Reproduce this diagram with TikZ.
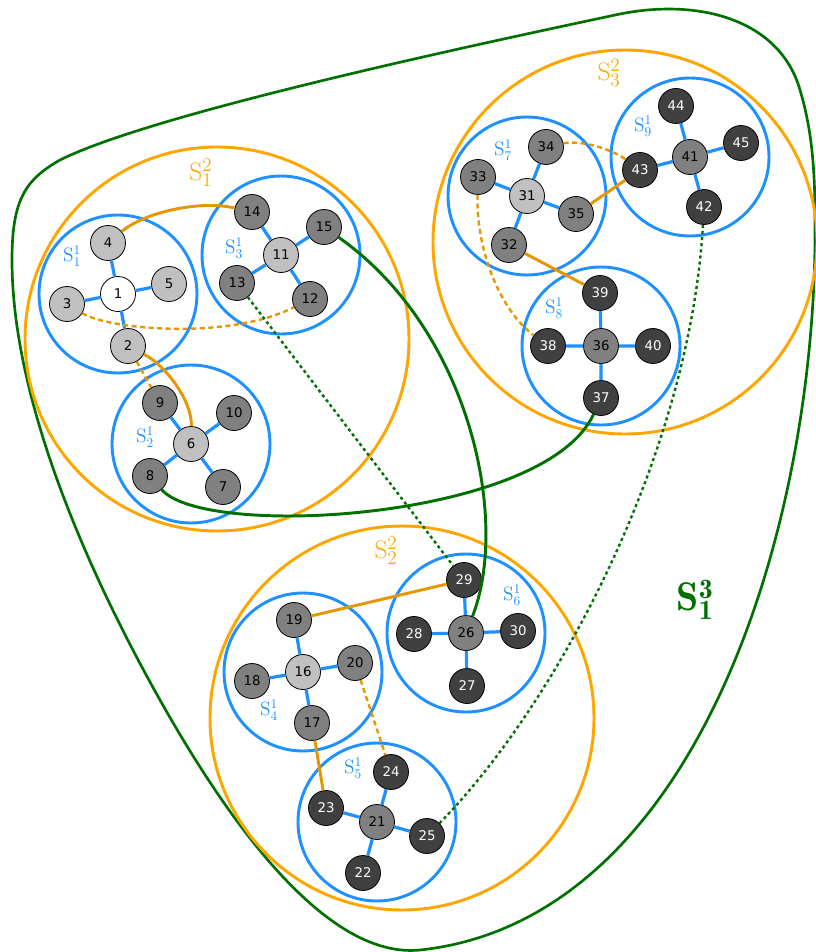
\documentclass[tikz,border=0pt]{standalone}
\usepackage{fontspec}
\newfontfamily\numfont{DejaVu Sans}
\definecolor{cblue}{RGB}{30,144,255}
\definecolor{corange}{RGB}{255,165,0}
\definecolor{cedge}{RGB}{230,150,0}
\definecolor{cgreen}{RGB}{0,112,0}
\definecolor{clight}{RGB}{192,192,192}
\definecolor{cmid}{RGB}{128,128,128}
\definecolor{cdark}{RGB}{64,64,64}
\begin{document}
\begin{tikzpicture}[x=0.75pt,y=-0.75pt,
  vtx/.style={circle,draw=black,line width=0.6pt,minimum size=26.25pt,inner sep=0pt,font=\numfont\fontsize{10}{12}\selectfont},
  vw/.style={vtx,fill=white},
  vl/.style={vtx,fill=clight},
  vm/.style={vtx,fill=cmid},
  vd/.style={vtx,fill=cdark,text=white},
  ringone/.style={draw=cblue,line width=2.2pt},
  ringtwo/.style={draw=corange,line width=2.2pt},
  blob/.style={draw=cgreen,line width=2pt},
  tree/.style={draw=cblue,line width=2.4pt},
  olink/.style={draw=cedge,line width=2.2pt},
  odash/.style={draw=cedge,line width=1.8pt,dash pattern=on 3.8pt off 2.6pt},
  glink/.style={draw=cgreen,line width=2.2pt},
  gdot/.style={draw=cgreen,line width=1.8pt,dash pattern=on 2.3pt off 2.3pt},
  labone/.style={text=cblue,font=\fontsize{14.5}{17}\selectfont},
  labtwo/.style={text=corange,font=\fontsize{19}{22}\selectfont},
  labthree/.style={text=cgreen,font=\fontsize{30}{34}\selectfont}
]
\useasboundingbox (0,0) rectangle (816,952);

% outer green blob
\draw[blob] (12,260) .. controls (12,200) and (25,180) .. (60,160)
  .. controls (150,115) and (450,50) .. (620,14)
  .. controls (700,-2) and (780,20) .. (800,90)
  .. controls (812,130) and (815,170) .. (815,220)
  .. controls (818,520) and (700,920) .. (420,950)
  .. controls (340,958) and (250,860) .. (160,700)
  .. controls (110,611) and (12,420) .. cycle;

% orange rings
\draw[ringtwo] (217,339) circle[radius=144pt];
\draw[ringtwo] (625,242) circle[radius=144pt];
\draw[ringtwo] (402,718) circle[radius=144pt];

% vertices
\node[vw] (n1) at (118,294) {1};
\node[vl] (n2) at (128,346) {2};
\node[vl] (n3) at (67,304) {3};
\node[vl] (n4) at (108,243) {4};
\node[vl] (n5) at (169,284) {5};
\node[vl] (n6) at (191,444) {6};
\node[vm] (n7) at (223,487) {7};
\node[vm] (n8) at (150,476) {8};
\node[vm] (n9) at (160,403) {9};
\node[vm] (n10) at (234,413) {10};
\node[vl] (n11) at (281,255) {11};
\node[vm] (n12) at (310,299) {12};
\node[vm] (n13) at (237,283) {13};
\node[vm] (n14) at (252,212) {14};
\node[vm] (n15) at (324,227) {15};
\node[vl] (n16) at (303,672) {16};
\node[vm] (n17) at (312,723) {17};
\node[vm] (n18) at (252,681) {18};
\node[vm] (n19) at (294,620) {19};
\node[vm] (n20) at (355,663) {20};
\node[vm] (n21) at (377,822) {21};
\node[vd] (n22) at (363,873) {22};
\node[vd] (n23) at (326,808) {23};
\node[vd] (n24) at (391,772) {24};
\node[vd] (n25) at (427,836) {25};
\node[vm] (n26) at (466,633) {26};
\node[vd] (n27) at (467,686) {27};
\node[vd] (n28) at (414,634) {28};
\node[vd] (n29) at (464,580) {29};
\node[vd] (n30) at (518,631) {30};
\node[vl] (n31) at (527,196) {31};
\node[vm] (n32) at (509,245) {32};
\node[vm] (n33) at (478,177) {33};
\node[vm] (n34) at (546,147) {34};
\node[vm] (n35) at (576,214) {35};
\node[vm] (n36) at (601,346) {36};
\node[vd] (n37) at (601,398) {37};
\node[vd] (n38) at (548,346) {38};
\node[vd] (n39) at (600,293) {39};
\node[vd] (n40) at (653,346) {40};
\node[vm] (n41) at (690,157) {41};
\node[vd] (n42) at (704,207) {42};
\node[vd] (n43) at (640,170) {43};
\node[vd] (n44) at (676,106) {44};
\node[vd] (n45) at (741,143) {45};

% blue rings
\foreach \c in {n1,n11,n6,n31,n41,n36,n16,n26,n21}
  \draw[ringone] (\c.center) circle[radius=59.25pt];

% tree edges
\foreach \c/\a/\b/\d/\e in {n1/n4/n5/n3/n2, n11/n14/n15/n13/n12, n6/n9/n10/n8/n7,
  n31/n34/n33/n35/n32, n41/n44/n45/n43/n42, n36/n39/n38/n40/n37,
  n16/n19/n18/n20/n17, n26/n29/n28/n30/n27, n21/n24/n23/n25/n22}
  \draw[tree] (\c) -- (\a) (\c) -- (\b) (\c) -- (\d) (\c) -- (\e);

% orange links
\draw[olink] (n4) .. controls (145,212) and (200,200) .. (n14);
\draw[olink] (n2) .. controls (165,365) and (192,400) .. (n6);
\draw[olink] (n35) -- (n43);
\draw[olink] (n32) -- (n39);
\draw[olink] (n19) -- (n29);
\draw[olink] (n17) -- (n23);
\draw[odash] (n2) -- (n9);
\draw[odash] (n3) .. controls (110,330) and (230,340) .. (n12);
\draw[odash] (n34) .. controls (580,140) and (610,148) .. (n43);
\draw[odash] (n33) .. controls (476,250) and (500,310) .. (n38);
\draw[odash] (n20) -- (n24);

% green links
\draw[glink] (n15) .. controls (470,330) and (510,520) .. (n26);
\draw[glink] (n8) .. controls (205,540) and (545,520) .. (n37);
\draw[gdot] (n13) -- (n29);
\draw[gdot] (n42) .. controls (690,450) and (560,700) .. (n25);

% labels
\node[labone] (l1) at (72,256) {$\mathrm{S}_1^1$};
\node[labone] (l3) at (234,248) {$\mathrm{S}_3^1$};
\node[labone] (l2) at (145,437) {$\mathrm{S}_2^1$};
\node[labone] (l7) at (503,150) {$\mathrm{S}_7^1$};
\node[labone] (l9) at (643,126) {$\mathrm{S}_9^1$};
\node[labone] (l8) at (554,308) {$\mathrm{S}_8^1$};
\node[labone] (l6) at (512,595) {$\mathrm{S}_6^1$};
\node[labone] (l4) at (269,710) {$\mathrm{S}_4^1$};
\node[labone] (l5) at (353,768) {$\mathrm{S}_5^1$};
\node[labtwo] (m1) at (201,173) {$\mathrm{S}_1^2$};
\node[labtwo] (m3) at (609,73) {$\mathrm{S}_3^2$};
\node[labtwo] (m2) at (386,551) {$\mathrm{S}_2^2$};
\node[labthree] (t1) at (695,600) {$\mathbf{S}_{\mathbf{1}}^{\mathbf{3}}$};
\end{tikzpicture}
\end{document}
